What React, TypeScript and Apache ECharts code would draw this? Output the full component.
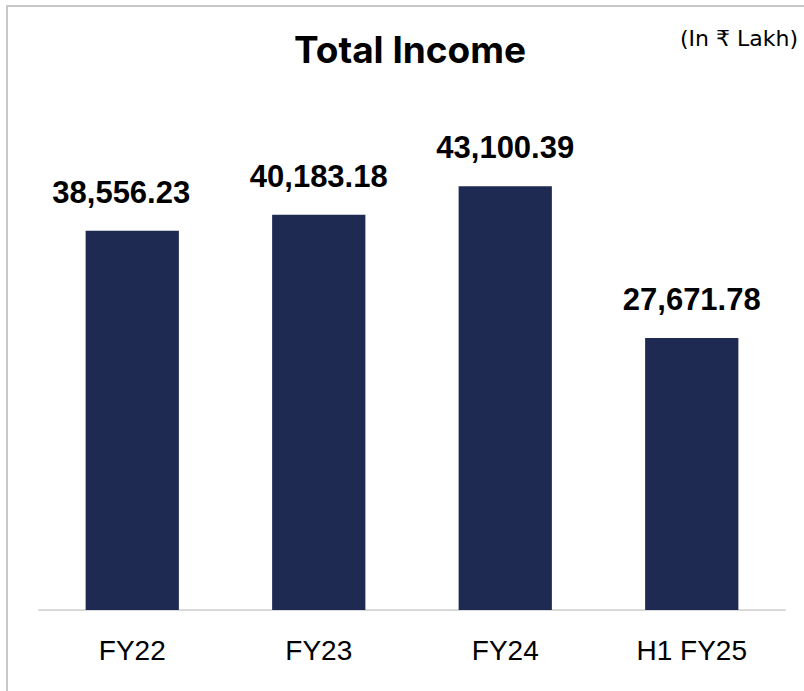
import React, { useEffect, useRef } from "react";
import * as echarts from "echarts";

const categories = ["FY22", "FY23", "FY24", "H1 FY25"];
const values = [38556.23, 40183.18, 43100.39, 27671.78];
const titleText = "Total Income";
const unitText = "(In ₹ Lakh)";

const fmt = (v: number) =>
  v.toLocaleString("en-US", { minimumFractionDigits: 2, maximumFractionDigits: 2 });

export default function App() {
  const ref = useRef<HTMLDivElement>(null);
  useEffect(() => {
    const chart = echarts.init(ref.current!, null, { renderer: "svg" });
    const data = values.map((v, i) =>
      i === 0 ? { value: v, label: { offset: [-11, 0] } } : { value: v }
    );
    chart.setOption({
      animation: false,
      backgroundColor: "#ffffff",
      graphic: [
        {
          type: "rect",
          shape: { x: 7, y: 6, width: 820, height: 720 },
          style: { fill: "none", stroke: "#c8c8c8", lineWidth: 2 },
          silent: true,
        },
        {
          type: "text",
          x: 410,
          y: 49,
          style: {
            text: titleText,
            fontFamily: "Inter",
            fontWeight: "bold",
            fontSize: 37,
            fill: "#000",
            textAlign: "center",
            textVerticalAlign: "middle",
          },
        },
        {
          type: "text",
          x: 798,
          y: 38,
          style: {
            text: unitText,
            fontFamily: "DejaVu Sans",
            fontSize: 22,
            fill: "#000",
            textAlign: "right",
            textVerticalAlign: "middle",
          },
        },
      ],
      grid: { left: 39, right: 19, top: 118.3, bottom: 81, containLabel: false },
      xAxis: {
        type: "category",
        data: categories,
        axisLine: { show: true, lineStyle: { color: "#d9d9d9", width: 2 } },
        axisTick: { show: false },
        axisLabel: {
          color: "#000",
          fontSize: 28,
          fontFamily: "Liberation Sans",
          margin: 26,
        },
      },
      yAxis: {
        type: "value",
        min: 0,
        max: 50000,
        show: false,
        splitLine: { show: false },
      },
      series: [
        {
          type: "bar",
          data,
          barWidth: "50%",
          itemStyle: { color: "#1f2a53" },
          label: {
            show: true,
            position: "top",
            distance: 23,
            formatter: (p: any) => fmt(p.value),
            color: "#000",
            fontWeight: "bold",
            fontSize: 31,
            fontFamily: "Liberation Sans",
          },
        },
      ],
    });
    return () => chart.dispose();
  }, []);
  return (
    <div
      ref={ref}
      style={{ position: "fixed", left: 0, top: 0, width: 804, height: 691 }}
    />
  );
}
